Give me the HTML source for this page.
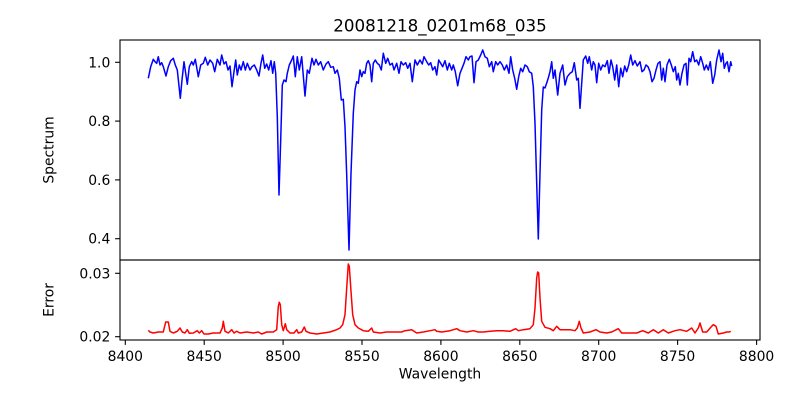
<!DOCTYPE html>
<html>
<head>
<meta charset="utf-8">
<style>
html,body{margin:0;padding:0;background:#fff;}
svg{display:block;}
text{font-family:"DejaVu Sans","Liberation Sans",sans-serif;fill:#000;}
</style>
</head>
<body>
<svg width="800" height="400" viewBox="0 0 800 400" xmlns="http://www.w3.org/2000/svg">
<rect x="0" y="0" width="800" height="400" fill="#fff"/>

<!-- title -->
<text x="440" y="31.7" font-size="16.7" text-anchor="middle">20081218_0201m68_035</text>

<!-- spectrum line -->
<polyline fill="none" stroke="#0000ff" stroke-width="1.5" stroke-linejoin="round" points="148.3,78.3 150.7,66.7 153.3,59.3 155,61.7 156.7,63.3 158.3,56.7 160,65 161.7,62.7 163.3,66.7 166,76 168.3,66.7 170.7,60.7 173.3,58.3 175.3,65 177.3,70 180.3,98.3 182,80 184,61.7 185.7,73.3 187.3,84.3 189.3,66.7 191.7,61.7 193.3,65 195.3,59.3 198.3,76.7 200.7,65 203.3,63.3 205.3,57.3 207.7,65 210,60 212.7,63.3 214.7,71.7 217.3,59.3 220,65 221.7,55 224,64 226,61.7 228,70 230,66 232,86.7 234,71.7 235.7,60 237.3,75 239.3,65 241,70 243.3,61.7 245.3,70 247.3,63.3 250,70 252,66.7 254.3,65 256.7,70 259,76 261,63.3 262.7,55 264.7,68.3 266.7,64 268.7,70 271,60.7 272.7,73.3 274.3,61.7 275.7,73.3 277.3,116.7 279,195 280.7,140 282.3,85 284,80 286,81.7 287.3,73.3 289.3,65 291.7,60 293.3,56 295.3,76.7 297.3,56.7 299.3,70 301.7,56.7 305,96 307.3,70 309.3,73.3 312,58.3 314,65 316,59.3 318.3,65 320.7,61.7 323.3,70 326,64 328.3,61.7 330.7,67.3 333.3,66.7 335,73.3 337.3,70 339.3,78.3 341.3,100 343.3,99.3 345,126.7 346.7,175 349,250 351,173.3 353.3,113.3 355,90 356.7,81.7 358.3,83.3 360,70 361.7,76.7 363.3,71.7 365,73.3 366.7,63.3 368.3,60.7 370,65 371.7,81.7 373.3,63.3 375.3,60 377.3,63.3 379.3,65 381.3,70 383.3,53.3 385.7,63.3 387.7,58.3 390,65 392.3,63.3 394,70 396.7,63.3 399,73.3 401,61.7 403.3,65 405.7,62.7 407.7,68.3 410,63.3 412.3,81.7 415,60 417.3,65 420,60 422.3,64 424,56.7 426.7,61.7 428.7,65 430.7,62.7 432.7,70 435,66.7 436.7,75 438.7,60 440.7,63.3 442.7,66.7 445,60.7 447.3,70 449.3,63.3 451.7,70 453.3,65 455.3,71.7 457.7,85.7 460,73.3 462,68.3 464,63.3 466,56.7 468.3,60 470,56.7 472,56 474,82.7 476,61.7 478.3,60 480.7,55 482.7,50 485,56.7 487.3,58.3 489.3,66.7 491.7,61.7 493.3,71.7 495.7,61.7 497.7,65 500,61.7 502.3,65 504.3,70 506.7,65 509,73.3 510.7,56.7 512.7,70 514.7,78.3 516.7,89.3 518.7,76.7 520.7,68.3 522.7,71.7 525,65 527.3,66.7 529.3,71.7 531.7,73.3 533.3,86.7 535,123.3 536.7,183.3 538.3,239 540,173 541.7,110 543.3,87 545,88 546.7,83 548.3,78 550,71.7 551.7,61.7 553.3,78.3 555,70 557.7,95 560,73.3 562.7,65 565,85 567.3,76.7 570,73.3 572.3,71.7 574.3,62.7 576.7,80 578.3,78.3 580,108.3 581.7,83.3 583.3,60 585.7,56 587.7,63.3 589.3,56.7 591.7,70 593.3,61.7 595,65 596.7,82.7 598.7,63.3 600.7,70 602.7,65 605,66.7 607.3,60.7 609,73.3 611,60 612.7,66.7 614.7,80 616.7,65 618.7,86.7 620.7,68.3 622.7,76.7 624.7,66 626.7,71.7 628.7,65 630.7,55 632.7,65 635,60.7 637.3,66 640,61.7 642,71.7 644,70 646,65 648,66.7 650,71.7 652,81.7 654,78.3 656,70 658,63.3 660,61.7 661.7,80 663.3,68.3 665,81.7 667,65 669.3,59.3 671.3,65 673.3,71.7 675.3,66.7 676.7,80 678.3,73.3 680,85 682,73.3 684,65 686,63.3 687.3,85 689,58.3 690.7,61.7 692.7,51.7 694.7,61.7 696.7,60 698.7,65 700.7,56.7 702.7,63.3 704.3,70 706.3,65 708.3,70 710.3,61.7 712.7,83.3 714.7,75 716.7,60 719,50 721,61.7 722.7,53.3 724.3,68.3 726,63.3 727.3,61.7 729,71.7 730.7,61.7 731.7,66"/>

<!-- error line -->
<polyline fill="none" stroke="#ff0000" stroke-width="1.5" stroke-linejoin="round" points="148.3,330.3 150,332 153.3,333 158.3,332 163.3,332 165.7,322 168.3,322 170,331.3 173.3,333 177.3,331.3 180,328 182.3,332 185,333 187.3,329.7 189.3,333.3 193.3,333 197.3,330.7 199.3,333 201.7,330.7 204,334 208.3,334 213.3,333 220,333 222.3,328 223.3,321.3 225,331.3 228.3,333 231.7,329.7 234,333 236.7,331.3 240,333 246.7,332 253.3,333 258.3,332 261.7,334 266.7,332 273.3,332 276.7,329.7 278.3,306.3 279.3,302.3 280.3,304.7 281.7,324.7 283.3,330.7 285.3,323.7 286.7,329.7 290,333 294,333 296.7,329.7 298.3,333 301.7,332 304.3,327 306,331.3 310,333 316.7,334 323.3,333 330,332 336.7,329.7 340,328 342.7,324.7 345,314.7 346.7,288 348.3,264 349.3,266.3 351,291.3 352.7,314.7 355,324.7 358.3,328 363.3,330.7 368.3,331.3 371.7,328 373.3,332 380,333 386.7,332 396.7,332 401.7,332 405,330.7 411.7,329.7 416.7,333 423.3,332 430,330.7 435,329.7 436.7,331.3 441.7,332 450,330.7 456.7,328.7 460,330.7 466.7,332 473.3,330.7 478.3,332 483.3,332 490,331.3 496.7,330.7 503.3,330.7 510,331.3 515.7,328.7 518.3,330.7 523.3,329.7 530,328.7 533.3,324.7 535,308 536.7,278 537.7,272 538.7,273 540,298 541.7,321.3 545,327.3 550,328.7 553.3,330.7 556.7,326.3 560,329.7 565,329.7 570,329.7 575,330.7 577.3,328 579.3,321.3 581,328 583.3,333 590,332 596,329.7 600,332 606.7,333 611.7,332 618.3,328.7 621.7,333 630,333 636.7,333 642.7,330.7 648.3,333 653.3,329.7 658.3,333 663.3,329.7 668.3,333 675,330.7 680,329.7 686.7,331.3 691.7,328 695,333 698.3,328 700,323 702.7,332 706.7,332 711.7,326.3 713.3,324.7 716,326.3 718.3,334 723.3,333 726.7,332 729.3,332 730.7,331.3"/>

<!-- axes frames -->
<rect x="120" y="40" width="640" height="220" fill="none" stroke="#000" stroke-width="1.1"/>
<rect x="120" y="260" width="640" height="80" fill="none" stroke="#000" stroke-width="1.1"/>

<!-- top y ticks -->
<g stroke="#000" stroke-width="1.1">
<line x1="115.1" y1="62.3" x2="120" y2="62.3"/>
<line x1="115.1" y1="121.1" x2="120" y2="121.1"/>
<line x1="115.1" y1="179.9" x2="120" y2="179.9"/>
<line x1="115.1" y1="238.7" x2="120" y2="238.7"/>
<line x1="115.1" y1="273.3" x2="120" y2="273.3"/>
<line x1="115.1" y1="336.7" x2="120" y2="336.7"/>
<line x1="125.3" y1="340" x2="125.3" y2="344.9"/>
<line x1="204.2" y1="340" x2="204.2" y2="344.9"/>
<line x1="283.1" y1="340" x2="283.1" y2="344.9"/>
<line x1="362.0" y1="340" x2="362.0" y2="344.9"/>
<line x1="440.9" y1="340" x2="440.9" y2="344.9"/>
<line x1="519.8" y1="340" x2="519.8" y2="344.9"/>
<line x1="598.7" y1="340" x2="598.7" y2="344.9"/>
<line x1="677.6" y1="340" x2="677.6" y2="344.9"/>
<line x1="756.6" y1="340" x2="756.6" y2="344.9"/>
</g>

<g font-size="13.9" text-anchor="end">
<text x="110.3" y="67.3">1.0</text>
<text x="110.3" y="126.1">0.8</text>
<text x="110.3" y="184.9">0.6</text>
<text x="110.3" y="243.7">0.4</text>
<text x="110.3" y="278.3">0.03</text>
<text x="110.3" y="341.7">0.02</text>
</g>

<g font-size="13.9" text-anchor="middle">
<text x="125.3" y="361">8400</text>
<text x="204.2" y="361">8450</text>
<text x="283.1" y="361">8500</text>
<text x="362.0" y="361">8550</text>
<text x="440.9" y="361">8600</text>
<text x="519.8" y="361">8650</text>
<text x="598.7" y="361">8700</text>
<text x="677.6" y="361">8750</text>
<text x="756.6" y="361">8800</text>
</g>

<text x="440" y="378.5" font-size="13.9" text-anchor="middle">Wavelength</text>
<text transform="translate(53.5,150) rotate(-90)" font-size="13.9" text-anchor="middle">Spectrum</text>
<text transform="translate(53.5,300) rotate(-90)" font-size="13.9" text-anchor="middle">Error</text>
</svg>
</body>
</html>
